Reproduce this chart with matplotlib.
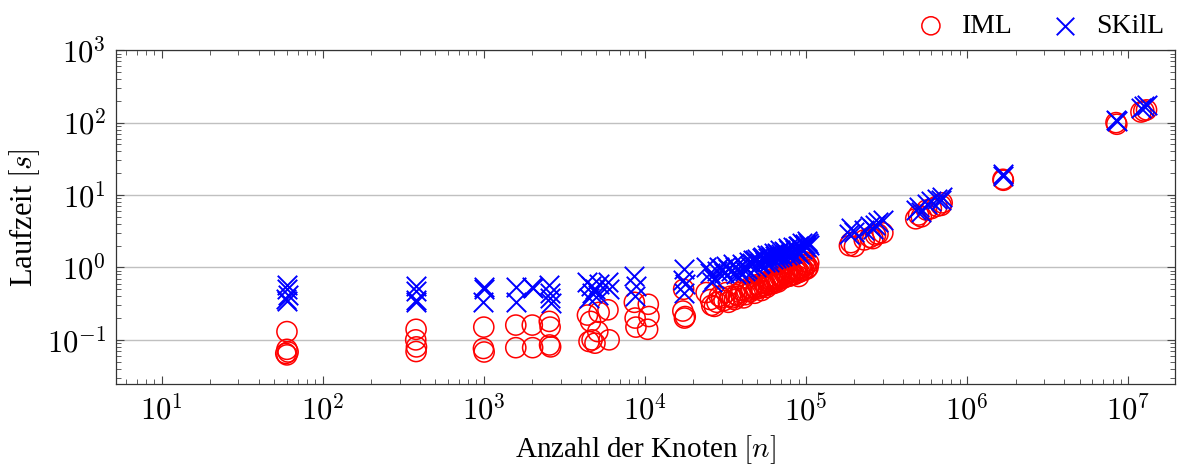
import matplotlib
matplotlib.use("Agg")
import numpy as np
from matplotlib import pyplot as plt
from matplotlib.ticker import LogLocator, NullFormatter, FuncFormatter

# Anzahl der Knoten / Laufzeit IML / Laufzeit SKilL (gleiche Graphen)
nodes = [60, 60, 61, 60, 59,
         380, 378, 382, 380,
         1000, 995, 1005,
         1580, 1580,
         2000, 2010,
         2550, 2580, 2560, 2600,
         4400, 4600, 4700, 4500, 4900, 5100, 5200,
         5900, 6000,
         8600, 8800, 8700,
         17400, 17200, 17600, 17800,
         24000, 25500, 27000, 26000, 28000, 30000, 33000, 35000, 37000,
         29000, 31000, 32000, 34000, 36000,
         38000, 40000, 42000, 44000, 45000, 47000, 49000, 50000, 52000, 54000,
         56000, 58000, 60000, 62000, 64000, 66000, 68000, 70000, 73000, 76000,
         79000, 82000, 85000, 88000, 91000, 94000, 97000, 100000, 103000, 98000, 90000,
         39000, 41000, 43000, 46000, 48000, 51000, 53000, 55000, 57000, 59000,
         61000, 63000, 65000, 67000, 69000, 71000, 74000, 77000, 80000, 83000,
         86000, 89000, 92000, 95000, 99000, 101000, 104000,
         186000, 190000, 200000, 230000, 250000, 260000, 280000, 300000, 270000,
         480000, 500000, 520000, 560000, 600000, 650000, 700000, 690000,
         1670000, 1680000,
         8500000, 8400000,
         12000000, 13000000, 12500000]

iml = [0.13, 0.074, 0.068, 0.062, 0.065,
       0.14, 0.10, 0.08, 0.069,
       0.15, 0.076, 0.068,
       0.16, 0.078,
       0.16, 0.078,
       0.18, 0.15, 0.085, 0.08,
       0.22, 0.18, 0.10, 0.095, 0.09, 0.13, 0.24,
       0.26, 0.10,
       0.33, 0.15, 0.20,
       0.50, 0.25, 0.20, 0.21,
       0.45, 0.36, 0.29, 0.30, 0.33, 0.38, 0.33, 0.38, 0.42,
       0.40, 0.35, 0.45, 0.40, 0.36,
       0.40, 0.48, 0.42, 0.52, 0.46, 0.55, 0.50, 0.58, 0.52, 0.62,
       0.56, 0.65, 0.60, 0.70, 0.64, 0.72, 0.68, 0.78, 0.72, 0.82,
       0.76, 0.88, 0.80, 0.95, 0.86, 1.00, 0.92, 1.10, 1.00, 1.20, 0.75,
       0.45, 0.38, 0.47, 0.50, 0.44, 0.54, 0.48, 0.60, 0.53, 0.58,
       0.66, 0.60, 0.68, 0.63, 0.74, 0.70, 0.80, 0.75, 0.85, 0.80,
       0.90, 0.85, 0.98, 0.90, 1.05, 0.95, 1.15,
       2.0, 2.2, 1.95, 2.4, 2.6, 2.5, 2.9, 3.0, 2.8,
       4.7, 5.3, 5.0, 6.2, 6.5, 7.0, 7.8, 7.2,
       16.5, 16.0,
       95, 100,
       140, 150, 145]

skill = [0.58, 0.50, 0.41, 0.34, 0.37,
         0.55, 0.48, 0.36, 0.33,
         0.53, 0.33, 0.50,
         0.53, 0.33,
         0.54, 0.52,
         0.57, 0.45, 0.38, 0.32,
         0.62, 0.55, 0.45, 0.38, 0.50, 0.42, 0.60,
         0.62, 0.50,
         0.75, 0.55, 0.40,
         0.94, 0.68, 0.45, 0.60,
         1.00, 0.85, 0.70, 0.62, 0.90, 0.95, 0.95, 1.10, 0.80,
         1.00, 0.85, 1.05, 0.90, 1.00,
         0.95, 1.10, 0.90, 1.20, 1.05, 1.25, 1.00, 1.30, 1.15, 1.40,
         1.20, 1.35, 1.50, 1.30, 1.45, 1.60, 1.40, 1.55, 1.70, 1.50,
         1.75, 1.60, 1.85, 1.70, 1.95, 1.80, 2.05, 1.90, 2.20, 2.10, 1.55,
         0.85, 1.00, 0.95, 1.15, 1.25, 1.10, 1.35, 1.25, 1.50, 1.20,
         1.40, 1.60, 1.35, 1.55, 1.75, 1.45, 1.65, 1.85, 1.55, 1.90,
         1.75, 2.00, 1.85, 2.15, 2.00, 2.30, 2.05,
         2.9, 3.5, 3.1, 3.3, 3.7, 3.4, 4.2, 4.5, 3.9,
         6.3, 6.8, 5.9, 7.5, 8.2, 8.8, 9.3, 8.6,
         19.3, 18.5,
         104, 110,
         160, 175, 168]

# nur IML sichtbar (SKilL-Werte verdeckt)
nodes_iml_only = [10500, 10400, 10600]
iml_only = [0.31, 0.14, 0.21]


def log_label(v, pos):
    return r'$10^{%d}$' % int(round(np.log10(v)))


def main():
    plt.rcParams['font.family'] = ['Liberation Serif', 'DejaVu Serif']
    plt.rcParams['mathtext.fontset'] = 'cm'

    fig = plt.figure(figsize=(11.82, 4.65), dpi=100)
    ax = fig.add_axes([0.098, 0.174, 0.896, 0.718])

    circ = dict(s=14.5**2, facecolors='none', edgecolors='#ff0000',
                linewidths=1.1, zorder=3)
    ax.scatter(nodes, iml, label='IML', **circ)
    ax.scatter(nodes_iml_only, iml_only, **circ)
    ax.scatter(nodes, skill, s=14**2, marker='x', color='#0000ff',
               linewidths=1.4, label='SKilL', zorder=4)

    ax.set_xscale('log')
    ax.set_yscale('log')
    ax.set_xlim(5.2, 1.95e7)
    ax.set_ylim(0.0245, 1000)

    ax.xaxis.set_major_locator(LogLocator(base=10, numticks=20))
    ax.yaxis.set_major_locator(LogLocator(base=10, numticks=20))
    ax.xaxis.set_minor_locator(LogLocator(base=10, subs=np.arange(2, 10), numticks=20))
    ax.yaxis.set_minor_locator(LogLocator(base=10, subs=np.arange(2, 10), numticks=20))
    ax.xaxis.set_major_formatter(FuncFormatter(log_label))
    ax.yaxis.set_major_formatter(FuncFormatter(log_label))
    ax.xaxis.set_minor_formatter(NullFormatter())
    ax.yaxis.set_minor_formatter(NullFormatter())

    ax.tick_params(which='both', direction='in', top=True, right=True,
                   labelsize=22, color='#444444')
    ax.tick_params(which='major', length=6, width=0.8)
    ax.tick_params(axis='x', which='major', pad=8)
    ax.tick_params(axis='y', which='major', pad=7)
    ax.tick_params(which='minor', length=3.5, width=0.6)

    ax.grid(True, which='major', axis='y', color='#c0c0c0', linewidth=1.0)
    ax.set_axisbelow(True)
    for sp in ax.spines.values():
        sp.set_linewidth(0.9)
        sp.set_color('#333333')

    ax.set_xlabel('Anzahl der Knoten $[n]$', fontsize=21, labelpad=4)
    ax.set_ylabel('Laufzeit $[s]$', fontsize=22, labelpad=3)

    ax.legend(loc='lower right', bbox_to_anchor=(1.0, 1.0), ncol=2,
              frameon=False, fontsize=20, handletextpad=0.4,
              columnspacing=1.2, borderaxespad=0.0, markerscale=0.9,
              handlelength=1.4)

    fig.savefig('out.png', dpi=100)


if __name__ == '__main__':
    main()
